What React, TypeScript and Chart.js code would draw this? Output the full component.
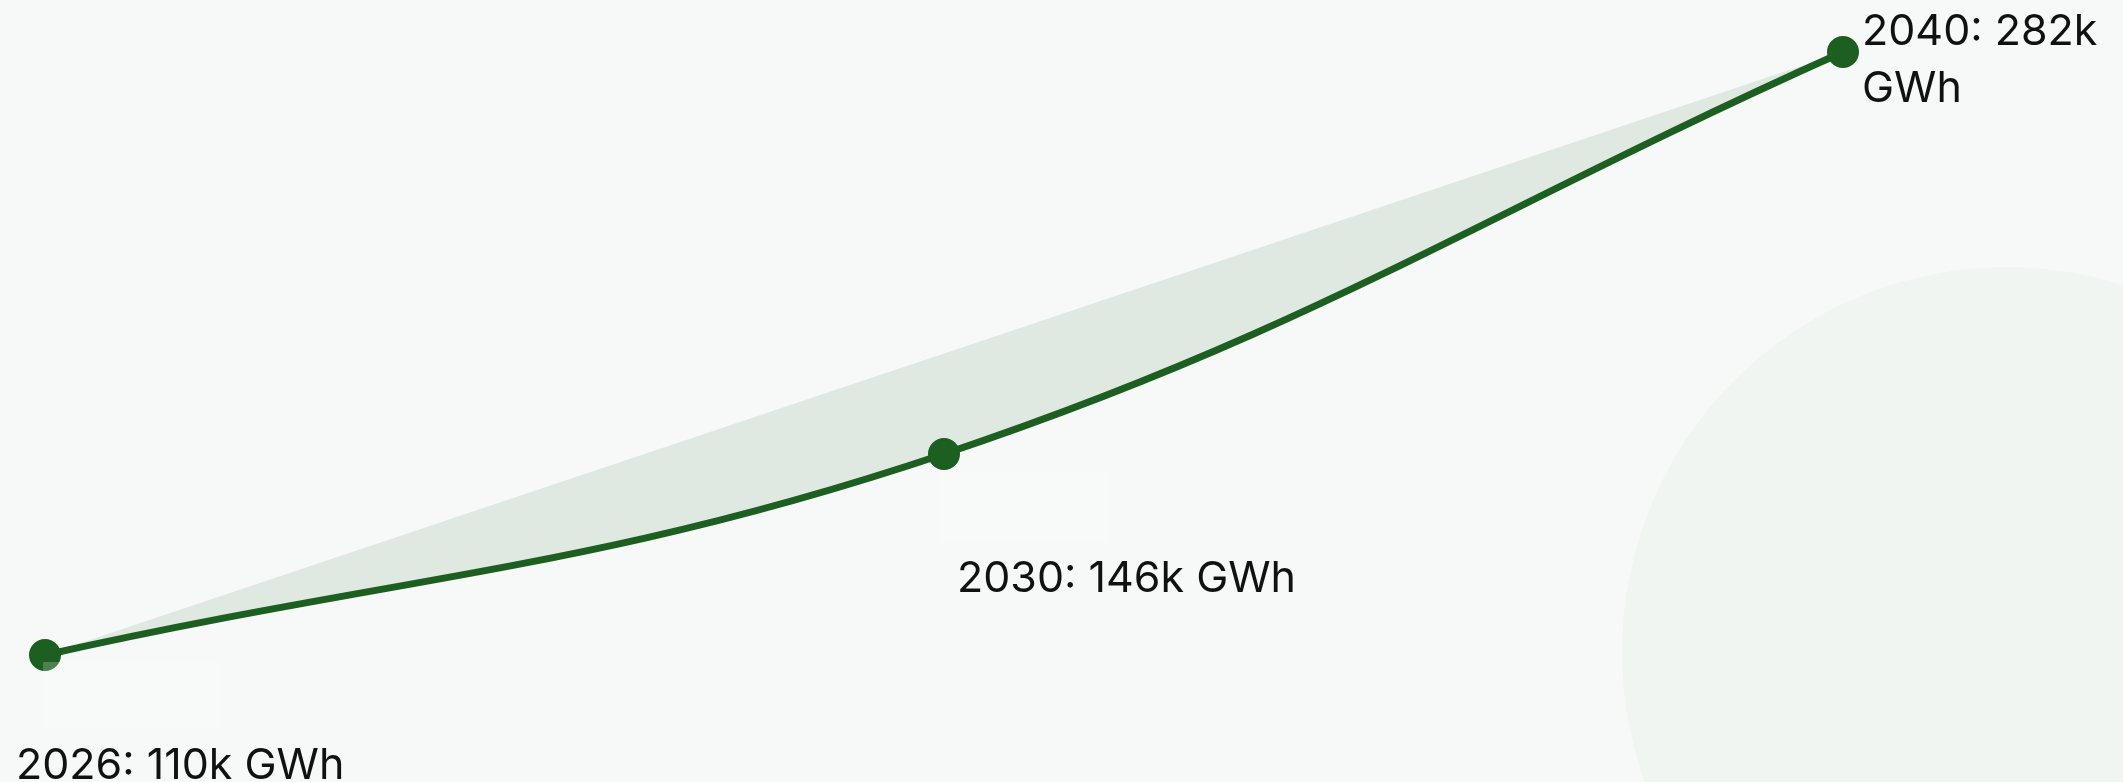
import React, { useEffect, useRef } from "react";
import { Chart, registerables, LinearScale } from "chart.js";

// ---- data ----
const years: string[] = ["2026", "2030", "2040"];
const generation: number[] = [110, 146, 282]; // thousand GWh
const unitSuffix = "k GWh";

const W = 2123;
const H = 782;
const LINE = "#1d5e21";
const FONT = "43px Inter, 'Noto Sans', sans-serif";

// Hidden compressive (offset-logarithmic) value axis
class OffsetLogScale extends (LinearScale as any) {
  static id = "offsetLog";
  static defaults = {};
  _t(v: number) {
    const s = (this as any).options.shift ?? 0;
    return Math.log10(v - s);
  }
  getPixelForValue(value: number) {
    const me: any = this;
    const a = me._t(me.min);
    const b = me._t(me.max);
    return me.getPixelForDecimal((me._t(value) - a) / (b - a));
  }
  getValueForPixel(pixel: number) {
    const me: any = this;
    const s = me.options.shift ?? 0;
    const a = me._t(me.min);
    const b = me._t(me.max);
    const d = me.getDecimalForPixel(pixel);
    return Math.pow(10, a + d * (b - a)) + s;
  }
}

Chart.register(...registerables, OffsetLogScale as any);

const backgroundPlugin = {
  id: "bgDecor",
  beforeDraw(chart: any) {
    const ctx = chart.ctx;
    ctx.save();
    ctx.fillStyle = "#f7f9f8";
    ctx.fillRect(0, 0, chart.width, chart.height);
    ctx.beginPath();
    ctx.arc(2007, 652, 385, 0, Math.PI * 2);
    ctx.fillStyle = "#f1f5f1";
    ctx.fill();
    ctx.restore();
  },
};

// label placement relative to each point: dx, dy (top of first line)
const labelOffsets = [
  { dx: -29, dy: 90, box: { dx: -2, dy: 7, w: 177, h: 65 } },
  { dx: 13, dy: 104, box: { dx: -5, dy: 19, w: 170, h: 69 } },
  { dx: 19, dy: -41, box: null as any },
];

function wrap(ctx: CanvasRenderingContext2D, text: string, maxW: number): string[] {
  const words = text.split(" ");
  const lines: string[] = [];
  let cur = "";
  for (const w of words) {
    const t = cur ? cur + " " + w : w;
    if (ctx.measureText(t).width > maxW && cur) {
      lines.push(cur);
      cur = w;
    } else cur = t;
  }
  if (cur) lines.push(cur);
  return lines;
}

const labelPlugin = {
  id: "pointLabels",
  afterDatasetsDraw(chart: any) {
    const ctx = chart.ctx as CanvasRenderingContext2D;
    const meta = chart.getDatasetMeta(0);
    ctx.save();
    ctx.font = FONT;
    ctx.textBaseline = "top";
    ctx.textAlign = "left";
    meta.data.forEach((pt: any, i: number) => {
      const off = labelOffsets[i];
      if (off.box) {
        ctx.fillStyle = "rgba(255,255,255,0.22)";
        ctx.fillRect(pt.x + off.box.dx, pt.y + off.box.dy, off.box.w, off.box.h);
      }
      const text = `${years[i]}: ${generation[i]}${unitSuffix}`;
      const x = pt.x + off.dx;
      const lines = wrap(ctx, text, chart.width - x - 4);
      ctx.fillStyle = "#111111";
      lines.forEach((ln, j) => {
        ctx.fillText(ln, x, pt.y + off.dy + j * 57);
      });
    });
    ctx.restore();
  },
};

export default function App() {
  const ref = useRef<HTMLCanvasElement | null>(null);
  useEffect(() => {
    document.body.style.margin = "0";
    document.body.style.background = "#f7f9f8";
    const canvas = ref.current!;
    const chart = new Chart(canvas, {
      type: "line",
      data: {
        labels: years,
        datasets: [
          {
            data: generation,
            borderColor: LINE,
            borderWidth: 7,
            backgroundColor: "rgba(29,94,33,0.1)",
            fill: "shape",
            tension: 0.4,
            pointRadius: 15,
            pointBorderWidth: 2,
            pointBackgroundColor: LINE,
            pointBorderColor: LINE,
            clip: false,
          } as any,
        ],
      },
      options: {
        responsive: false,
        animation: false,
        layout: { padding: { left: 45, right: 280, top: 52, bottom: 127 } },
        scales: {
          x: { display: false, offset: false },
          y: { display: false, type: "offsetLog", min: 110, max: 282, shift: 39 } as any,
        },
        plugins: {
          legend: { display: false },
          tooltip: { enabled: false },
        },
      },
      plugins: [backgroundPlugin, labelPlugin],
    });
    return () => chart.destroy();
  }, []);
  return (
    <div style={{ width: W, height: H, background: "#f7f9f8" }}>
      <canvas ref={ref} width={W} height={H} style={{ display: "block" }} />
    </div>
  );
}
